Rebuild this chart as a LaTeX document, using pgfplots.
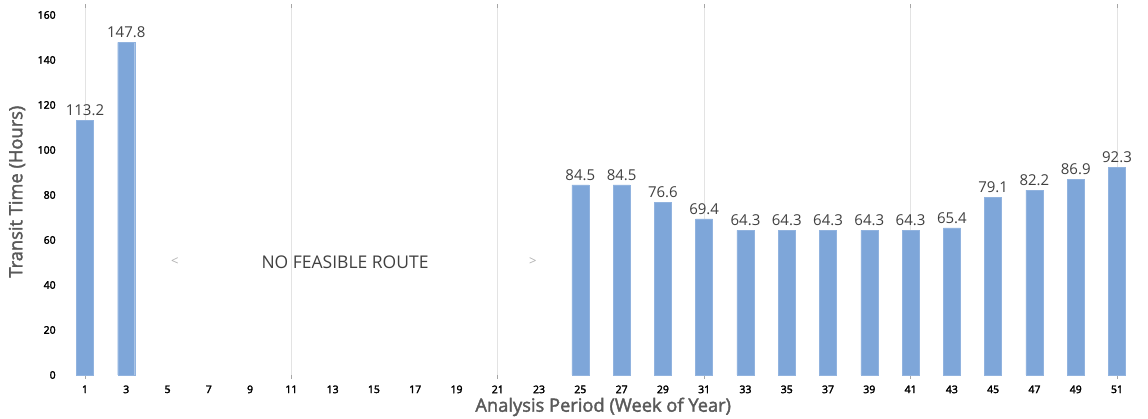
\documentclass[border=0pt]{standalone}
\usepackage{pgfplots}
\pgfplotsset{compat=1.18}
\usepackage{fontspec}
\setmainfont{Open Sans}
% semibold-looking faces: the regular cut, emboldened
\newfontfamily\semibold{Open Sans}[BoldFont={Open Sans}, BoldFeatures={FakeBold=2}]
\newfontfamily\ticksemi{Open Sans}[BoldFont={Open Sans}, BoldFeatures={FakeBold=2.5}]
\definecolor{barblue}{HTML}{7EA6D9}
\definecolor{gridgray}{HTML}{E3E3E3}
\definecolor{labelgray}{HTML}{595959}
\definecolor{valgray}{HTML}{404040}
\begin{document}
\begin{tikzpicture}[x=1pt,y=1pt]
\begin{axis}[
  at={(0,0)}, anchor=south west,
  scale only axis,
  width=1079.5pt, height=366.75pt,
  xmin=-0.2, xmax=52.1,
  ymin=0, ymax=163,
  axis line style={draw=none},
  ybar, bar width=17pt,
  xtick={1,3,...,51},
  major tick length=0pt,
  ytick={0,20,...,160},
  extra x ticks={1,11,21,31,41,51},
  extra x tick labels={},
  extra x tick style={
    xmajorgrids=true,
    major grid style={gridgray, line width=0.8pt},
    major tick length=4pt,
    tick style={gray!70, line width=0.8pt},
    tick align=outside,
  },
  ymajorgrids=false,
  /pgf/number format/assume math mode=true,
  xticklabel style={font=\ticksemi\bfseries\fontsize{10.5}{12}\selectfont, yshift=-7pt},
  yticklabel style={font=\ticksemi\bfseries\fontsize{10.5}{12}\selectfont, xshift=-1pt},
  every axis x label/.style={at={(axis description cs:0.503,-0.087)}, anchor=center},
  every axis y label/.style={at={(axis description cs:-0.040,0.5)}, rotate=90, anchor=center},
  xlabel={Analysis Period (Week of Year)},
  ylabel={Transit Time (Hours)},
  label style={font=\semibold\bfseries\fontsize{18.3}{21}\selectfont, text=labelgray},
  nodes near coords={\pgfmathprintnumber[fixed,fixed zerofill,precision=1]{\pgfplotspointmeta}},
  every node near coord/.append style={font=\fontsize{15}{17}\selectfont, text=valgray, yshift=1pt},
  clip=false,
]
\addplot[fill=barblue, draw=barblue!85!white, line width=0.4pt] coordinates {
  (1,113.2) (3,147.8)
  (25,84.5) (27,84.5) (29,76.6) (31,69.4) (33,64.3) (35,64.3)
  (37,64.3) (39,64.3) (41,64.3) (43,65.4) (45,79.1) (47,82.2)
  (49,86.9) (51,92.3)
};
\node[font=\fontsize{17.5}{20}\selectfont, text=valgray] at (axis cs:13.6,50.2) {NO FEASIBLE ROUTE};
\node[font=\fontsize{13}{15}\selectfont, text=gray!60] at (axis cs:5.36,50.2) {<};
\node[font=\fontsize{13}{15}\selectfont, text=gray!60] at (axis cs:22.7,50.2) {>};
\end{axis}
\pgfresetboundingbox
\useasboundingbox (-60.2pt,-44pt) rectangle (1087.8pt,375pt);
\end{tikzpicture}
\end{document}
